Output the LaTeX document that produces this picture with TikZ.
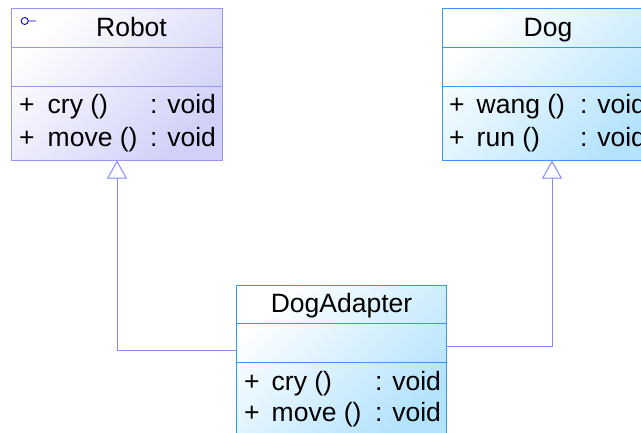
\documentclass[tikz,border=0pt]{standalone}
\usepackage{fontspec}
\setmainfont{Liberation Sans}
\usetikzlibrary{arrows.meta}
\definecolor{robotborder}{RGB}{150,150,255}
\definecolor{robotfill}{RGB}{208,208,248}
\definecolor{dogborder}{RGB}{51,153,255}
\definecolor{dogfill}{RGB}{178,226,252}
\definecolor{connc}{RGB}{136,136,255}
\definecolor{iconc}{RGB}{0,0,220}
\tikzset{
  classbox/.style={rectangle, inner sep=0pt, line width=1bp, minimum width=210bp, minimum height=152bp},
  robotbox/.style={classbox, draw=robotborder, top color=white, bottom color=robotfill, shading angle=45},
  dogbox/.style={classbox, draw=dogborder, top color=white, bottom color=dogfill, shading angle=45},
  robotsep/.style={draw=robotborder, line width=1bp},
  dogsep/.style={draw=dogborder, line width=1bp},
  txt/.style={inner sep=0pt, anchor=base west, font=\fontsize{26.5bp}{30bp}\selectfont},
  ttl/.style={inner sep=0pt, anchor=base, font=\fontsize{26.5bp}{30bp}\selectfont},
  gen/.style={draw=connc, line width=1bp, -{Triangle[open, width=20bp, length=18bp]}}
}
\begin{document}
\begin{tikzpicture}[x=1bp, y=-1bp]
\clip (0,0) rectangle (641,432);
\fill[white] (0,0) rectangle (641,432);
% Robot
\node[robotbox] (robot) at (117,84) {};
\draw[robotsep] (robot.west |- 0,47) -- (robot.east |- 0,47);
\draw[robotsep] (robot.west |- 0,86) -- (robot.east |- 0,86);
\draw[iconc, line width=0.9bp] (24.7,21) circle[radius=3.5bp] (28.2,21) -- (36,21);
\node[ttl] (robotname) at (131.5,36) {Robot};
\node[txt] (rp1) at (19,113) {+};
\node[txt] (rn1) at (47.5,113) {cry ()};
\node[txt] (rt1) at (150,113) {: void};
\node[txt] (rp2) at (19,146.5) {+};
\node[txt] (rn2) at (47.5,146.5) {move ()};
\node[txt] (rt2) at (150,146.5) {: void};
% Dog
\node[dogbox, minimum width=220bp] (dog) at (552,84) {};
\draw[dogsep] (dog.west |- 0,47) -- (dog.east |- 0,47);
\draw[dogsep] (dog.west |- 0,86) -- (dog.east |- 0,86);
\node[ttl] (dogname) at (548,36) {Dog};
\node[txt] (dp1) at (449,113) {+};
\node[txt] (dn1) at (476.5,113) {wang ()};
\node[txt] (dt1) at (580,113) {: void};
\node[txt] (dp2) at (449,146.5) {+};
\node[txt] (dn2) at (476.5,146.5) {run ()};
\node[txt] (dt2) at (580,146.5) {: void};
% DogAdapter
\node[dogbox] (adapter) at (341,361) {};
\draw[dogsep] (adapter.west |- 0,323.3) -- (adapter.east |- 0,323.3);
\draw[dogsep] (adapter.west |- 0,362.3) -- (adapter.east |- 0,362.3);
\node[ttl] (adaptername) at (341.5,312) {DogAdapter};
\node[txt] (ap1) at (244,390) {+};
\node[txt] (an1) at (271.5,390) {cry ()};
\node[txt] (at1) at (375,390) {: void};
\node[txt] (ap2) at (244,421.5) {+};
\node[txt] (an2) at (271.5,421.5) {move ()};
\node[txt] (at2) at (375,421.5) {: void};
% connectors
\coordinate (a1) at (adapter.west |- 0,350.3);
\coordinate (a2) at (adapter.east |- 0,346.7);
\draw[gen] (a1) -| (robot.south);
\draw[gen] (a2) -| (dog.south);
\end{tikzpicture}
\end{document}
